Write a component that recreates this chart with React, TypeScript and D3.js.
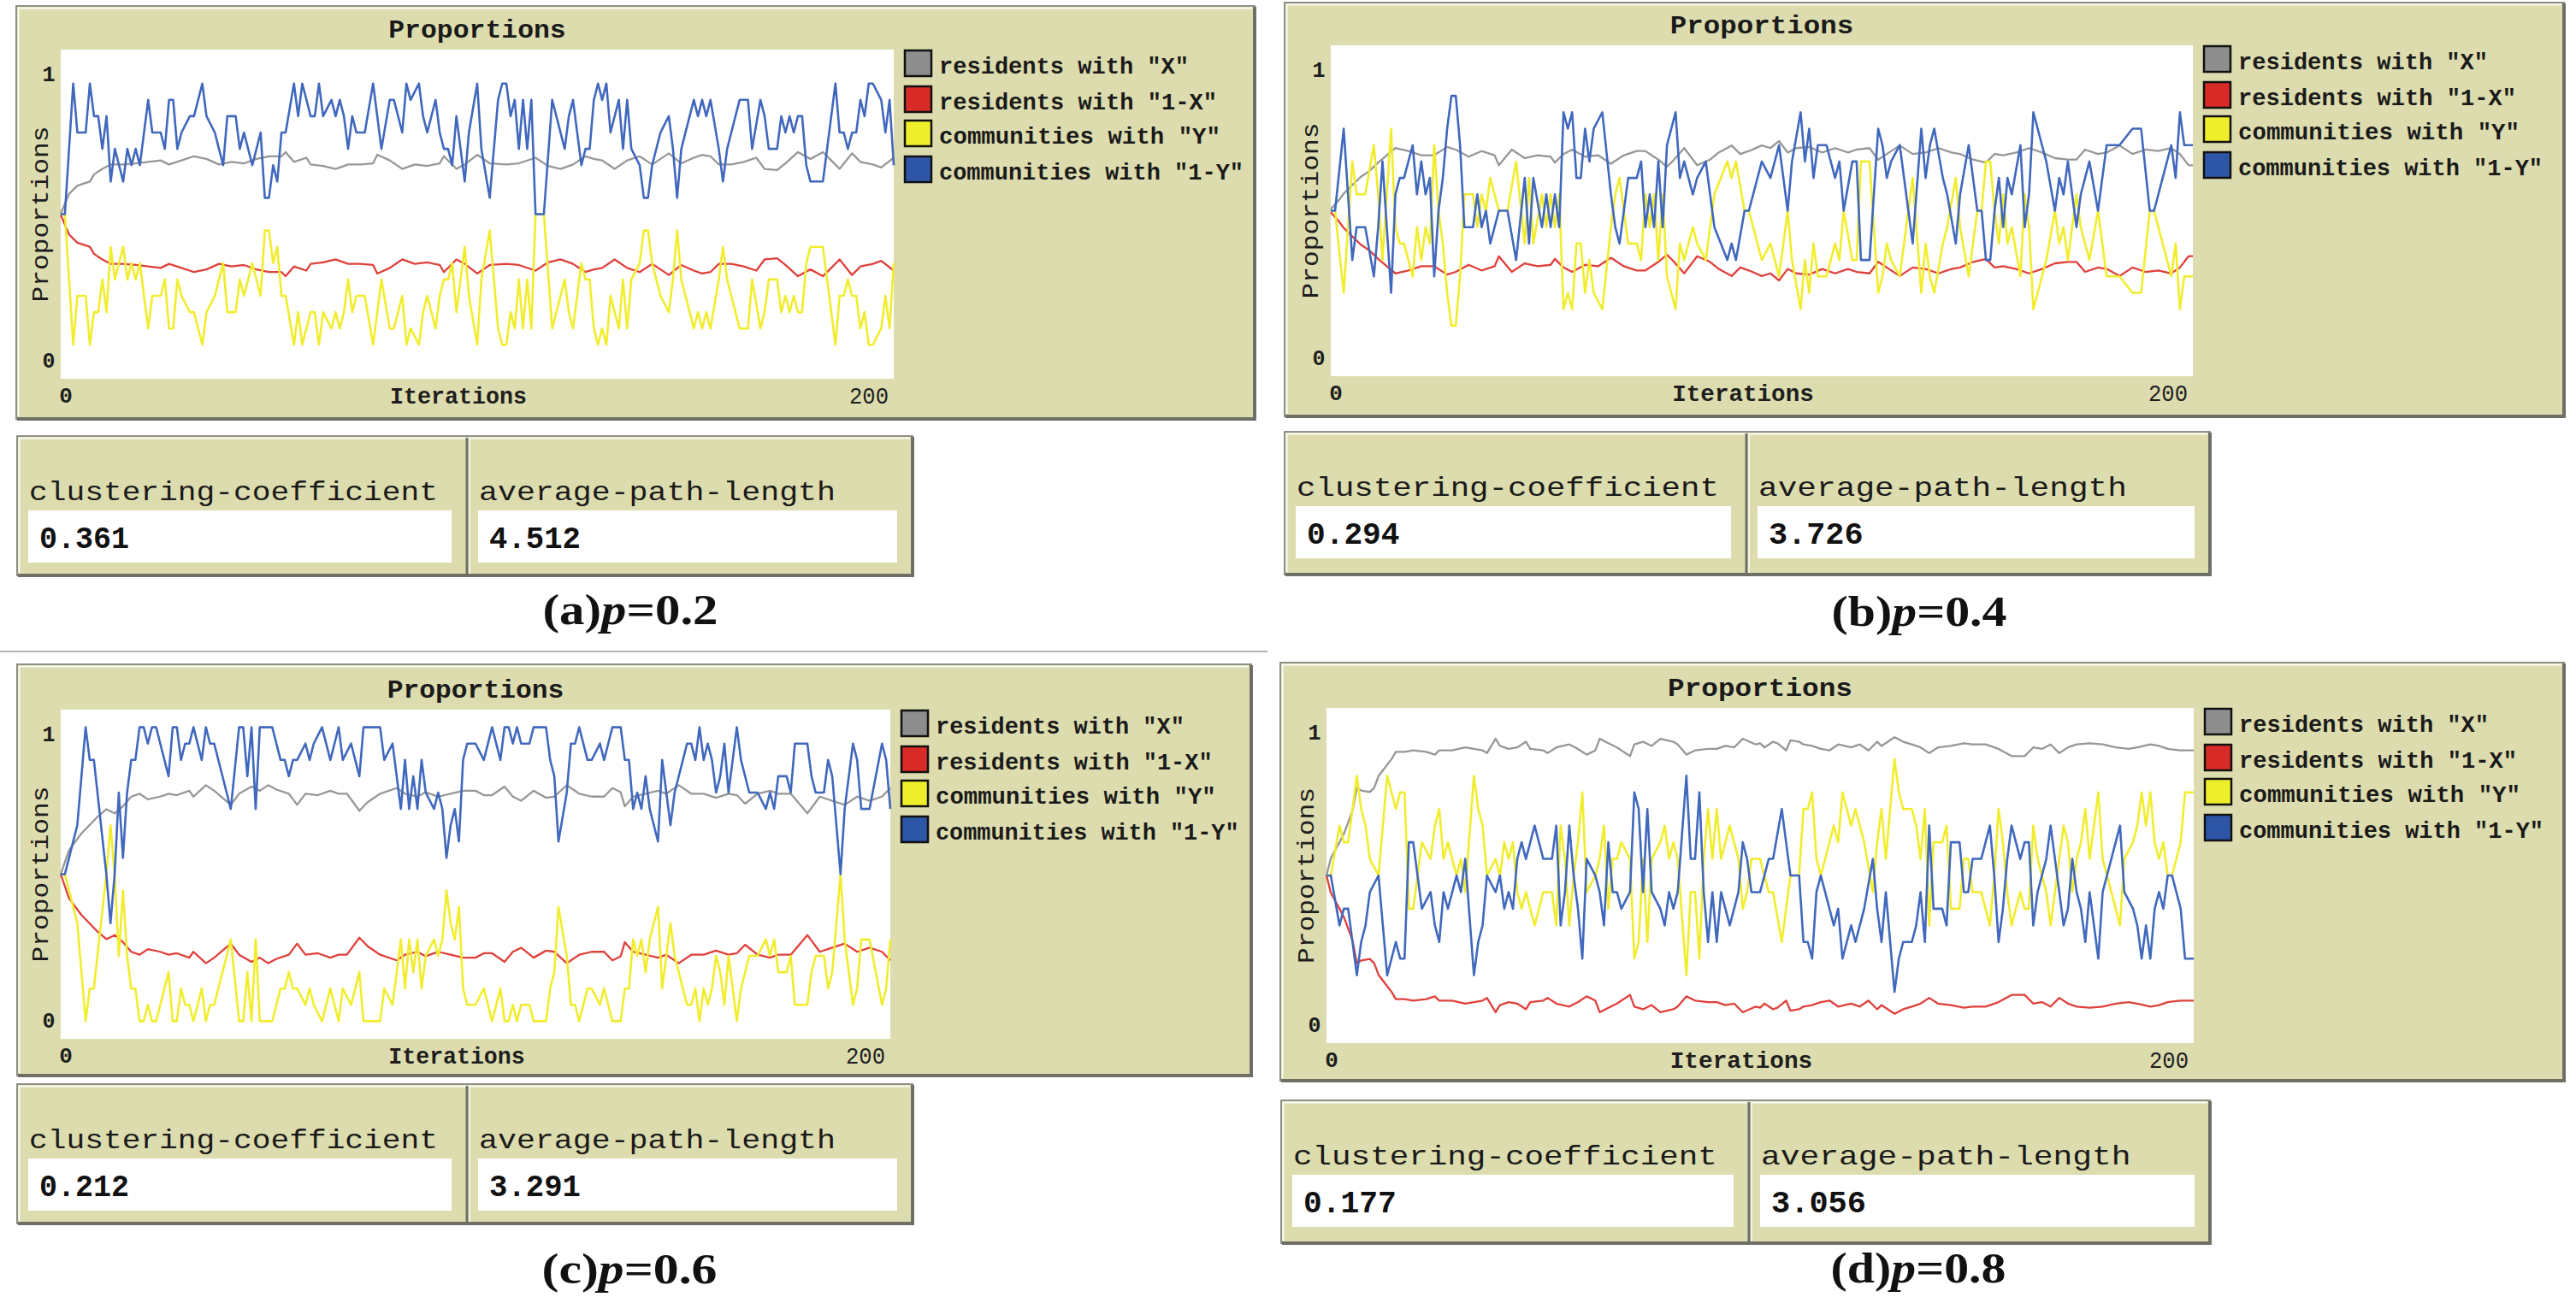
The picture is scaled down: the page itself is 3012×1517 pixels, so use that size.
import React from 'react';
import * as d3 from 'd3';

const COMMUNITIES = 18;
const X_MAX = 200;

// ---------------- (a) p = 0.2 ----------------
const aCommIter = [0,1,3,4,6,7,8,9,10,11, 12,13,14,15,16,17,18,19,20,21, 22,24,25,26,27,28,29,31,32,34, 35,37,38,39,40,42,43,44,45,46, 48,49,50,51,52,53,54,56,57,58, 60,61,62,63,65,66,67,68,69,70, 71,73,75,76,77,79,80,82,83,84, 86,87,88,90,91,92,93,94,95,96, 97,98,100,101,103,105,106,107,108,109, 110,111,112,113,114,116,118,119,121,122, 123,125,126,127,128,129,130,131,132,134, 135,136,137,139,140,141,142,144,146,147, 148,149,151,152,153,154,155,156,158,159, 160,161,163,165,166,168,169,170,172,173, 174,175,176,177,178,179,180,183,184,186, 187,188,189,190,191,192,193,194,195,197, 198,199,200];
const aComm1Y = [9,9,17,14,14,17,15,15,13,15, 11,13,12,11,13,12,13,12,14,16, 14,14,13,16,16,13,14,15,15,17, 15,14,13,12,15,15,13,14,13,12, 14,10,10,12,11,14,14,17,15,17, 15,15,17,15,16,15,16,15,13,15, 14,14,17,15,13,16,16,14,17,16, 17,15,14,16,14,13,13,12,15,13, 11,14,17,13,10,16,17,17,15,16, 13,16,13,16,9,9,16,15,13,15, 16,12,13,13,16,17,16,17,14,16, 13,16,13,12,10,10,12,14,15,13, 10,13,15,16,15,16,15,16,13,11, 13,14,16,16,13,16,15,13,13,15, 14,15,14,15,15,12,11,11,13,17, 14,14,13,14,14,16,15,17,17,16, 14,16,12];
const aCommY = [9,9,1,4,4,1,3,3,5,3, 7,5,6,7,5,6,5,6,4,2, 4,4,5,2,2,5,4,3,3,1, 3,4,5,6,3,3,5,4,5,6, 4,8,8,6,7,4,4,1,3,1, 3,3,1,3,2,3,2,3,5,3, 4,4,1,3,5,2,2,4,1,2, 1,3,4,2,4,5,5,6,3,5, 7,4,1,5,8,2,1,1,3,2, 5,2,5,2,9,9,2,3,5,3, 2,6,5,5,2,1,2,1,4,2, 5,2,5,6,8,8,6,4,3,5, 8,5,3,2,3,2,3,2,5,7, 5,4,2,2,5,2,3,5,5,3, 4,3,4,3,3,6,7,7,5,1, 4,4,5,4,4,2,3,1,1,2, 4,2,6];
const aResIter = [0,2,4,7,8,9,10,12,15,18, 21,24,26,29,32,35,38,41,44,47, 50,53,54,56,59,60,63,66,69,72, 75,76,79,82,85,88,91,92,95,97, 100,103,107,110,114,117,120,123,126,128, 130,133,136,139,142,146,149,152,154,156, 158,161,164,167,169,172,174,177,180,183, 185,187,190,192,195,197,200];
const aResX = [.502,.569,.597,.611,.635,.645,.654,.669,.669,.673, .678,.683,.669,.683,.697,.688,.669,.678,.673,.688, .697,.697,.711,.678,.692,.669,.664,.654,.669,.669, .673,.702,.683,.654,.669,.664,.673,.697,.654,.669, .702,.673,.669,.673,.692,.664,.654,.669,.697,.688, .683,.654,.683,.697,.669,.707,.673,.692,.702,.697, .669,.669,.678,.692,.654,.650,.673,.711,.688,.711, .683,.654,.707,.678,.669,.659,.692];
const aRes1X = [.498,.431,.403,.389,.365,.355,.346,.331,.331,.327, .322,.317,.331,.317,.303,.312,.331,.322,.327,.312, .303,.303,.289,.322,.308,.331,.336,.346,.331,.331, .327,.298,.317,.346,.331,.336,.327,.303,.346,.331, .298,.327,.331,.327,.308,.336,.346,.331,.303,.312, .317,.346,.317,.303,.331,.293,.327,.308,.298,.303, .331,.331,.322,.308,.346,.350,.327,.289,.312,.289, .317,.346,.293,.322,.331,.341,.308];

// ---------------- (b) p = 0.4 ----------------
const bCommIter = [0,1,3,5,6,8,10,11,12,14, 15,16,17,19,20,21,22,23,24,25, 26,27,28,29,30,31,33,34,35,36, 37,39,41,43,45,46,47,49,50,51, 52,53,54,55,56,57,58,59,60,61, 63,65,66,67,69,71,72,73,74,75, 76,77,78,80,81,82,84,85,87,89, 92,93,94,96,97,100,102,104,106,107, 109,110,111,112,113,115,116,117,118,119, 121,122,123,125,127,128,129,130,132,134, 135,137,138,139,140,142,143,145,146,148, 150,151,152,153,154,155,156,157,158,160, 161,162,163,165,166,168,169,170,171,173, 174,176,178,179,180,183,186,188,190,191, 193,195,196,197,198,200];
const bComm1Y = [9,9,14,6,8,8,5,8,12,4, 10,11,11,13,10,12,10,11,5,9, 11,14,16,16,13,8,8,10,8,9, 7,9,9,6,11,7,11,8,10,8, 10,8,15,14,15,11,11,14,12,14, 15,10,8,7,11,11,12,8,10,8, 12,8,13,15,11,12,10,11,12,8, 6,7,6,9,9,12,11,13,9,12, 15,12,14,11,13,13,12,11,12,9, 12,12,6,6,14,13,11,12,13,9, 7,14,11,13,14,11,10,7,10,13, 9,9,6,6,9,11,8,11,10,13, 8,10,15,13,12,9,11,10,12,8, 10,12,9,11,13,13,14,14,9,9, 11,13,11,15,13,13];
const bCommY = [9,9,4,12,10,10,13,10,6,14, 8,7,7,5,8,6,8,7,13,9, 7,4,2,2,5,10,10,8,10,9, 11,9,9,12,7,11,7,10,8,10, 8,10,3,4,3,7,7,4,6,4, 3,8,10,11,7,7,6,10,8,10, 6,10,5,3,7,6,8,7,6,10, 12,11,12,9,9,6,7,5,9,6, 3,6,4,7,5,5,6,7,6,9, 6,6,12,12,4,5,7,6,5,9, 11,4,7,5,4,7,8,11,8,5, 9,9,12,12,9,7,10,7,8,5, 10,8,3,5,6,9,7,8,6,10, 8,6,9,7,5,5,4,4,9,9, 7,5,7,3,5,5];
const bResIter = [0,2,3,5,7,9,11,13,15,18, 21,24,27,29,32,35,38,39,42,45, 48,51,52,54,56,59,62,65,68,71, 73,76,78,79,82,85,88,90,93,95, 97,100,102,104,106,108,111,114,117,120, 122,125,127,129,132,135,138,141,144,146, 149,152,154,156,159,162,165,168,171,173, 175,178,180,183,186,189,192,195,197,199, 200];
const bResX = [.505,.538,.558,.587,.615,.635,.663,.688,.712,.702, .688,.688,.716,.707,.683,.702,.688,.654,.707,.678, .688,.683,.663,.692,.707,.683,.688,.659,.688,.702, .702,.673,.649,.663,.712,.654,.673,.697,.721,.692, .702,.721,.712,.736,.697,.712,.716,.697,.712,.697, .707,.712,.673,.692,.721,.692,.697,.712,.697,.692, .673,.663,.692,.688,.697,.712,.697,.678,.673,.673, .707,.692,.697,.721,.692,.707,.702,.712,.692,.654, .654];
const bRes1X = [.495,.462,.442,.413,.385,.365,.337,.312,.288,.298, .312,.312,.284,.293,.317,.298,.312,.346,.293,.322, .312,.317,.337,.308,.293,.317,.312,.341,.312,.298, .298,.327,.351,.337,.288,.346,.327,.303,.279,.308, .298,.279,.288,.264,.303,.288,.284,.303,.288,.303, .293,.288,.327,.308,.279,.308,.303,.288,.303,.308, .327,.337,.308,.312,.303,.288,.303,.322,.327,.327, .293,.308,.303,.279,.308,.293,.298,.288,.308,.346, .346];

// ---------------- (c) p = 0.6 ----------------
const cCommIter = [0,1,3,4,6,7,8,11,12,13, 14,15,16,17,18,19,20,21,22,23, 24,26,27,28,29,30,31,32,34,35, 36,37,38,40,41,43,44,45,46,47, 48,49,51,53,54,55,56,57,59,60, 61,63,65,66,67,68,70,71,72,73, 77,78,80,82,83,84,85,86,87,88, 90,91,92,93,94,95,96,97,98,100, 102,104,106,107,108,109,110,111,113,114, 117,118,119,120,122,123,124,125,127,128, 130,131,132,133,135,136,137,138,139,140, 141,142,143,144,145,146,147,148,150,151, 152,153,154,155,156,157,158,159,160,161, 162,163,164,166,168,170,171,172,173,175, 176,177,180,181,182,184,185,186,188,189, 191,192,193,195,198,199,200];
const cComm1Y = [9,9,11,12,18,16,16,9,6,9, 14,10,14,16,16,18,18,17,18,18, 17,15,18,18,16,17,17,18,16,18, 17,17,16,14,13,18,18,15,18,13, 18,18,18,16,16,15,16,16,17,16, 17,18,16,17,18,16,17,16,15,18, 18,16,17,13,16,13,15,13,16,14, 13,14,13,10,12,13,11,16,17,17, 16,18,16,18,18,17,18,17,17,18, 18,16,15,11,14,17,17,18,16,16, 17,16,17,18,18,16,16,13,14,13, 15,13,12,11,16,14,12,14,16,17, 17,16,18,16,17,16,14,15,17,14, 16,18,16,14,14,13,14,13,15,15, 14,17,17,15,14,14,16,15,9,13, 17,16,13,13,17,16,13];
const cCommY = [9,9,7,6,0,2,2,9,12,9, 4,8,4,2,2,0,0,1,0,0, 1,3,0,0,2,1,1,0,2,0, 1,1,2,4,5,0,0,3,0,5, 0,0,0,2,2,3,2,2,1,2, 1,0,2,1,0,2,1,2,3,0, 0,2,1,5,2,5,3,5,2,4, 5,4,5,8,6,5,7,2,1,1, 2,0,2,0,0,1,0,1,1,0, 0,2,3,7,4,1,1,0,2,2, 1,2,1,0,0,2,2,5,4,5, 3,5,6,7,2,4,6,4,2,1, 1,2,0,2,1,2,4,3,1,4, 2,0,2,4,4,5,4,5,3,3, 4,1,1,3,4,4,2,3,9,5, 1,2,5,5,1,2,5];
const cResIter = [0,2,5,7,9,11,13,15,17,19, 21,24,26,28,31,32,35,37,39,41, 43,46,48,50,52,55,57,59,62,65, 67,69,72,74,77,81,83,86,88,91, 94,97,100,102,104,107,109,111,114,117, 119,122,125,128,131,133,135,136,138,141, 144,146,149,152,155,158,161,163,165,168, 171,173,176,180,183,186,189,192,195,198, 200];
const cResX = [.5,.582,.639,.668,.697,.721,.707,.731,.764,.774, .755,.764,.774,.769,.784,.764,.803,.784,.760,.736, .774,.798,.784,.803,.788,.774,.736,.774,.769,.784, .774,.774,.716,.745,.774,.793,.774,.764,.779,.764, .774,.784,.784,.769,.769,.798,.764,.750,.784,.760, .764,.803,.774,.764,.764,.793,.779,.731,.764,.774, .784,.774,.803,.774,.774,.760,.774,.769,.740,.774, .784,.774,.774,.707,.764,.750,.736,.764,.750,.764, .793];
const cRes1X = [.5,.418,.361,.332,.303,.279,.293,.269,.236,.226, .245,.236,.226,.231,.216,.236,.197,.216,.240,.264, .226,.202,.216,.197,.212,.226,.264,.226,.231,.216, .226,.226,.284,.255,.226,.207,.226,.236,.221,.236, .226,.216,.216,.231,.231,.202,.236,.250,.216,.240, .236,.197,.226,.236,.236,.207,.221,.269,.236,.226, .216,.226,.197,.226,.226,.240,.226,.231,.260,.226, .216,.226,.226,.293,.236,.250,.264,.236,.250,.236, .207];

// ---------------- (d) p = 0.8 ----------------
const dCommIter = [0,1,3,4,5,7,8,9,10,12, 13,14,15,16,17,18,19,20,21,22, 24,25,26,27,28,30,31,32,34,35, 36,37,39,40,41,42,43,44,45,46, 47,48,49,50,52,53,54,55,56,57, 58,59,60,62,63,64,65,66,67,68, 70,71,72,73,74,75,77,78,79,80, 81,83,84,85,86,87,88,89,90,91, 93,94,95,96,97,98,100,101,102,103, 105,106,107,109,110,111,112,113,114,115, 117,118,119,121,122,123,124,126,127,128, 129,130,131,132,133,135,136,137,138,139, 140,142,143,144,146,147,148,149,151,153, 154,155,156,157,158,159,160,161,162,163, 164,165,166,167,168,169,170,171,172,173, 174,175,176,178,179,180,181,183,184,186, 187,188,189,190,191,192,193,194,195,196, 197,198,200];
const dComm1Y = [9,9,6,7,7,3,5,6,8,9, 6,3,4,5,4,4,11,11,9,7, 8,6,5,8,7,9,8,10,3,5, 6,9,8,9,7,8,7,10,11,10, 11,12,11,10,10,12,6,8,12,9, 7,4,10,9,8,6,11,8,8,7, 8,14,13,8,13,8,7,6,8,7, 8,15,10,10,14,8,5,8,5,8, 6,7,8,11,10,8,8,9,10,10, 13,11,9,9,5,5,4,8,9,8, 6,7,4,6,5,6,7,10,7,5, 8,5,2,4,5,5,6,8,5,12, 7,7,6,11,11,8,8,10,10,12, 9,5,7,10,12,11,10,11,11,6, 8,9,10,12,10,8,6,7,10,8, 7,5,8,4,8,9,10,12,8,7, 6,4,6,4,7,8,7,9,9,8, 7,4,4];
const dCommY = [9,9,12,11,11,15,13,12,10,9, 12,15,14,13,14,14,7,7,9,11, 10,12,13,10,11,9,10,8,15,13, 12,9,10,9,11,10,11,8,7,8, 7,6,7,8,8,6,12,10,6,9, 11,14,8,9,10,12,7,10,10,11, 10,4,5,10,5,10,11,12,10,11, 10,3,8,8,4,10,13,10,13,10, 12,11,10,7,8,10,10,9,8,8, 5,7,9,9,13,13,14,10,9,10, 12,11,14,12,13,12,11,8,11,13, 10,13,16,14,13,13,12,10,13,6, 11,11,12,7,7,10,10,8,8,6, 9,13,11,8,6,7,8,7,7,12, 10,9,8,6,8,10,12,11,8,10, 11,13,10,14,10,9,8,6,10,11, 12,14,12,14,11,10,11,9,9,10, 11,14,14];
const dResIter = [0,1,3,4,6,7,8,10,11,12, 14,15,16,18,20,23,25,26,29,32, 34,36,37,39,40,42,44,46,47,50, 51,53,56,58,60,62,63,65,67,70, 71,73,75,77,80,81,83,85,88,90, 92,94,96,99,100,101,103,104,106,107, 109,110,112,114,116,118,121,123,125,127, 128,131,133,135,137,139,141,144,147,149, 152,155,158,161,163,165,167,169,171,173, 176,179,182,185,187,190,192,194,197,200];
const dResX = [.5,.558,.611,.639,.716,.793,.784,.779,.793,.832, .870,.889,.913,.913,.918,.913,.904,.918,.918,.928, .923,.918,.909,.957,.933,.923,.928,.947,.923,.918, .909,.928,.938,.923,.904,.918,.957,.942,.928,.899, .938,.947,.933,.957,.947,.938,.904,.918,.923,.923, .933,.928,.957,.938,.942,.928,.947,.942,.918,.952, .947,.938,.933,.923,.918,.938,.928,.938,.918,.947, .933,.962,.947,.938,.928,.909,.928,.933,.942,.938, .938,.923,.899,.899,.928,.923,.938,.909,.928,.938, .942,.938,.928,.923,.928,.938,.933,.923,.918,.918];
const dRes1X = [.5,.442,.389,.361,.284,.207,.216,.221,.207,.168, .130,.111,.087,.087,.082,.087,.096,.082,.082,.072, .077,.082,.091,.043,.067,.077,.072,.053,.077,.082, .091,.072,.062,.077,.096,.082,.043,.058,.072,.101, .062,.053,.067,.043,.053,.062,.096,.082,.077,.077, .067,.072,.043,.062,.058,.072,.053,.058,.082,.048, .053,.062,.067,.077,.082,.062,.072,.062,.082,.053, .067,.038,.053,.062,.072,.091,.072,.067,.058,.062, .062,.077,.101,.101,.072,.077,.062,.091,.072,.062, .058,.062,.072,.077,.072,.062,.067,.077,.082,.082];

// ---------------- texts ----------------
const legendLabels = ['residents with "X"', 'residents with "1-X"', 'communities with "Y"', 'communities with "1-Y"'];
const yTickLabels = ['0', '1'];
const xTickLabels = ['0', '200'];
const monitorLabels = ['clustering-coefficient', 'average-path-length'];
const clusteringValues = ['0.361', '0.294', '0.212', '0.177'];
const pathLengthValues = ['4.512', '3.726', '3.291', '3.056'];
const captionLetters = ['a', 'b', 'c', 'd'];
const captionP = ['0.2', '0.4', '0.6', '0.8'];

const series = [
  { commIter: aCommIter, c1Y: aComm1Y, cY: aCommY, resIter: aResIter, rX: aResX, r1X: aRes1X },
  { commIter: bCommIter, c1Y: bComm1Y, cY: bCommY, resIter: bResIter, rX: bResX, r1X: bRes1X },
  { commIter: cCommIter, c1Y: cComm1Y, cY: cCommY, resIter: cResIter, rX: cResX, r1X: cRes1X },
  { commIter: dCommIter, c1Y: dComm1Y, cY: dCommY, resIter: dResIter, rX: dResX, r1X: dRes1X },
];

// ---------------- layout & style ----------------
const layouts = [
  { frame: { x: 19, y: 7, r: 1467, b: 490 }, plot: { x: 71, y: 58, w: 974, h: 385 }, mon: { x: 20, y: 510, r: 1067, b: 673, div: 546 }, cap: { x: 737, y: 730 } },
  { frame: { x: 1502, y: 3, r: 2998, b: 487 }, plot: { x: 1556, y: 53, w: 1008, h: 387 }, mon: { x: 1502, y: 505, r: 2584, b: 672, div: 2042 }, cap: { x: 2244, y: 732 } },
  { frame: { x: 20, y: 777, r: 1463, b: 1258 }, plot: { x: 71, y: 830, w: 970, h: 385 }, mon: { x: 20, y: 1268, r: 1067, b: 1431, div: 546 }, cap: { x: 736, y: 1501 } },
  { frame: { x: 1497, y: 775, r: 2998, b: 1264 }, plot: { x: 1551, y: 828, w: 1014, h: 392 }, mon: { x: 1498, y: 1287, r: 2584, b: 1454, div: 2045 }, cap: { x: 2243, y: 1500 } },
];

const OLIVE = '#dddcae';
const MONO = "'Liberation Mono', 'DejaVu Sans Mono', monospace";
const SERIF = "'Liberation Serif', 'Times New Roman', serif";
const lineColors = ['#979797', '#df403b', '#f1ed2e', '#4068bd'];
const swatchColors = ['#8d8d8d', '#d82b27', '#eeee2a', '#2e56a7'];
const legendRowOffsets = [0, 42, 82, 124];
const legendLens = [292, 325, 329, 356];

function Bevel({ x, y, r, b }: { x: number; y: number; r: number; b: number }) {
  return (
    <g>
      <rect x={x} y={y} width={r - x} height={b - y} fill={OLIVE} stroke="#8f8f86" strokeWidth={2} />
      <polyline points={`${x + 2.5},${b - 3} ${x + 2.5},${y + 2.5} ${r - 3},${y + 2.5}`} fill="none" stroke="#fbfbf4" strokeWidth={2} />
      <polyline points={`${x + 1},${b} ${r},${b} ${r},${y + 1}`} fill="none" stroke="#6f6f66" strokeWidth={4} />
    </g>
  );
}

function Panel({ idx }: { idx: number }) {
  const L = layouts[idx];
  const S = series[idx];
  const P = L.plot;
  const x = d3.scaleLinear().domain([0, X_MAX]).range([P.x, P.x + P.w]);
  const y = d3.scaleLinear().domain([-0.06, 1.06]).range([P.y + P.h, P.y]);
  const line = d3.line<[number, number]>().x((d) => x(d[0])).y((d) => y(d[1]));

  const resX: [number, number][] = S.resIter.map((t, j) => [t, S.rX[j]]);
  const res1X: [number, number][] = S.resIter.map((t, j) => [t, S.r1X[j]]);
  const commY: [number, number][] = S.commIter.map((t, j) => [t, S.cY[j] / COMMUNITIES]);
  const comm1Y: [number, number][] = S.commIter.map((t, j) => [t, S.c1Y[j] / COMMUNITIES]);
  const paths = [resX, res1X, commY, comm1Y];

  const sc = P.w / 974;
  const legSc = Math.min(sc, 1.0);
  const M = L.mon;
  const W = M.r - M.x;
  const ms = W / 1047;
  const cells = [
    { x0: M.x, x1: M.div, label: monitorLabels[0], labelLen: 478 * ms, value: clusteringValues[idx], valueLen: 105 * ms },
    { x0: M.div, x1: M.r, label: monitorLabels[1], labelLen: 417 * ms, value: pathLengthValues[idx], valueLen: 107 * ms },
  ];
  const whiteY = M.y + 87;
  const whiteH = 61;

  return (
    <g>
      <Bevel {...L.frame} />
      <text x={P.x + P.w / 2} y={P.y - 14} textAnchor="middle" fontFamily={MONO} fontWeight="bold" fontSize={30}
        textLength={0.213 * P.w} lengthAdjust="spacingAndGlyphs" fill="#1a1a1a">Proportions</text>
      <rect x={P.x} y={P.y} width={P.w} height={P.h} fill="#ffffff" />
      <text transform={`translate(${P.x - 23},${P.y + P.h / 2}) rotate(-90)`} textAnchor="middle" dominantBaseline="central"
        fontFamily={MONO} fontSize={28} textLength={206} lengthAdjust="spacingAndGlyphs" fill="#1e1e1e">Proportions</text>
      <text x={P.x - 14} y={P.y + P.h - 20} textAnchor="middle" dominantBaseline="central" fontFamily={MONO} fontWeight="bold" fontSize={25} fill="#1e1e1e">{yTickLabels[0]}</text>
      <text x={P.x - 14} y={P.y + 30} textAnchor="middle" dominantBaseline="central" fontFamily={MONO} fontWeight="bold" fontSize={25} fill="#1e1e1e">{yTickLabels[1]}</text>
      <text x={P.x + 6} y={P.y + P.h + 21} textAnchor="middle" dominantBaseline="central" fontFamily={MONO} fontWeight="bold" fontSize={26} fill="#1e1e1e">{xTickLabels[0]}</text>
      <text x={P.x + P.w / 2 - 22} y={P.y + P.h + 21} textAnchor="middle" dominantBaseline="central" fontFamily={MONO} fontWeight="bold" fontSize={28}
        textLength={160 * sc} lengthAdjust="spacingAndGlyphs" fill="#1e1e1e">Iterations</text>
      <text x={P.x + P.w - 29} y={P.y + P.h + 21} textAnchor="middle" dominantBaseline="central" fontFamily={MONO} fontSize={28}
        textLength={46} lengthAdjust="spacingAndGlyphs" fill="#1e1e1e">{xTickLabels[1]}</text>
      {paths.map((pts, k) => (
        <path key={k} d={line(pts) || ''} fill="none" stroke={lineColors[k]} strokeWidth={k >= 2 ? 2.6 : 2.3} strokeLinejoin="round" />
      ))}
      {legendLabels.map((lab, k) => {
        const ry = P.y + legendRowOffsets[k];
        return (
          <g key={lab}>
            <rect x={P.x + P.w + 13} y={ry + 1} width={31} height={30} fill={swatchColors[k]} stroke="#111" strokeWidth={2.5} />
            <text x={P.x + P.w + 53} y={ry + 28} fontFamily={MONO} fontWeight="bold" fontSize={28}
              textLength={legendLens[k] * legSc} lengthAdjust="spacingAndGlyphs" fill="#1a1a1a">{lab}</text>
          </g>
        );
      })}
      <Bevel x={M.x} y={M.y} r={M.r} b={M.b} />
      <line x1={M.div} y1={M.y + 2} x2={M.div} y2={M.b} stroke="#6f6f66" strokeWidth={3} />
      <line x1={M.div + 3} y1={M.y + 4} x2={M.div + 3} y2={M.b - 2} stroke="#fbfbf4" strokeWidth={1.5} />
      {cells.map((c) => (
        <g key={c.label}>
          <text x={c.x0 + 14} y={M.y + 75} fontFamily={MONO} fontSize={32} textLength={c.labelLen} lengthAdjust="spacingAndGlyphs" fill="#1a1a1a">{c.label}</text>
          <rect x={c.x0 + 13} y={whiteY} width={c.x1 - 18 - (c.x0 + 13)} height={whiteH} fill="#ffffff" />
          <text x={c.x0 + 26} y={whiteY + whiteH / 2 + 13} fontFamily={MONO} fontWeight="bold" fontSize={36} textLength={c.valueLen} lengthAdjust="spacingAndGlyphs" fill="#111">{c.value}</text>
        </g>
      ))}
      <text x={L.cap.x} y={L.cap.y} textAnchor="middle" fontFamily={SERIF} fontWeight="bold" fontSize={50}
        textLength={205} lengthAdjust="spacingAndGlyphs" fill="#111">
        ({captionLetters[idx]})<tspan fontStyle="italic">p</tspan>={captionP[idx]}
      </text>
    </g>
  );
}

export default function App() {
  return (
    <svg width={3012} height={1517} viewBox="0 0 3012 1517" style={{ position: 'absolute', left: 0, top: 0, display: 'block', background: '#ffffff' }}>
      <rect x={0} y={0} width={3012} height={1517} fill="#ffffff" />
      <line x1={0} y1={762} x2={1482} y2={762} stroke="#b4b4b4" strokeWidth={2} />
      {layouts.map((_, i) => <Panel key={i} idx={i} />)}
    </svg>
  );
}
